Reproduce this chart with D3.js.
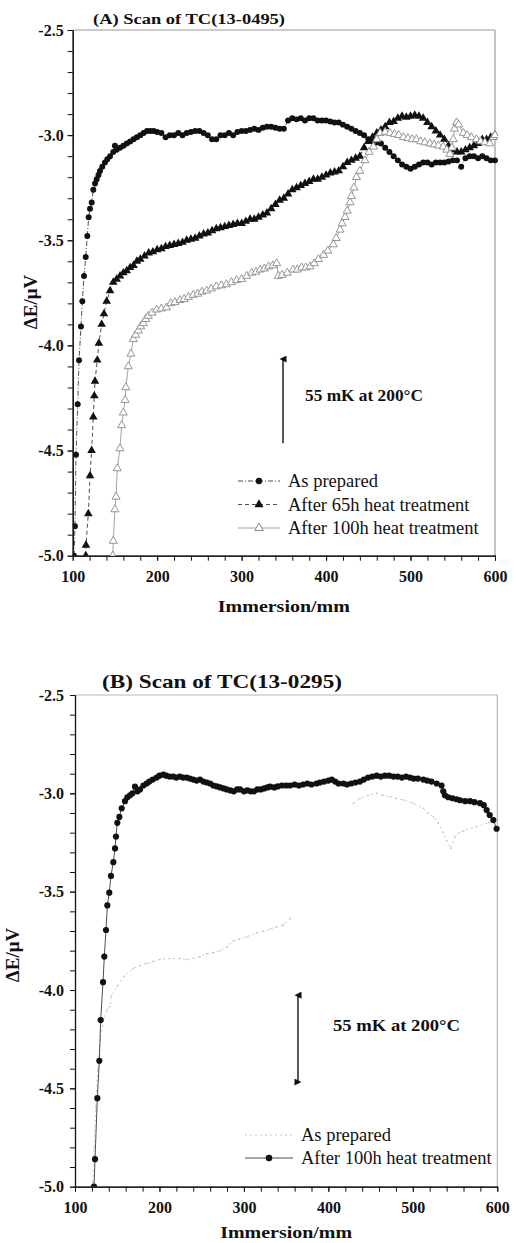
<!DOCTYPE html>
<meta charset="utf-8">
<style>
body { margin: 0; background: #fff; }
text { font-family: 'Liberation Serif', 'Times New Roman', serif; fill: #111; }
.axis text { font-weight: bold; font-size: 16px; }
.axis path, .axis line { stroke: #111; }
.title { font-weight: bold; }
.axisLabel { font-weight: bold; font-size: 17px; }
.yLabel { font-weight: bold; font-size: 19px; }
.legendLabel { font-size: 18.5px; }
.note { font-weight: bold; font-size: 16px; }
</style>
<body>
<svg id="chart" width="516" height="1243"></svg>
<script src="https://d3js.org/d3.v7.min.js"></script>
<script>
// tick values
const immersionTicks = [100, 200, 300, 400, 500, 600];
const emfTicks = [-2.5, -3.0, -3.5, -4.0, -4.5, -5.0];

// panel A : TC(13-0495)  [immersion mm, dE uV]
const asPreparedA = [[101.6,-5.0],[102.7,-4.86],[103.9,-4.52],[105.9,-4.28],[107.5,-4.07],[109.8,-3.91],[111.4,-3.79],[113.4,-3.67],[115.4,-3.58],[117.3,-3.48],[118.9,-3.39],[120.5,-3.35],[122.5,-3.32],[124.4,-3.26],[126.5,-3.23],[128.4,-3.21],[130.5,-3.19],[132.3,-3.17],[135,-3.15],[138.2,-3.13],[141,-3.115],[144.2,-3.10],[148,-3.08],[150,-3.05],[152,-3.07],[156,-3.06],[160,-3.05],[164,-3.04],[168,-3.03],[172,-3.02],[176,-3.01],[180,-3.0],[184,-2.99],[188,-2.98],[192,-2.98],[196,-2.98],[200,-2.985],[205,-2.99],[210,-3.01],[215,-3.0],[220,-3.0],[225,-2.99],[230,-3.0],[235,-2.99],[240,-2.985],[245,-2.98],[250,-2.98],[255,-2.99],[260,-3.0],[265,-3.02],[270,-3.02],[275,-3.0],[280,-3.0],[285,-2.99],[290,-3.0],[295,-2.985],[300,-2.98],[305,-2.98],[310,-2.975],[315,-2.97],[320,-2.975],[325,-2.965],[330,-2.96],[335,-2.96],[340,-2.965],[345,-2.97],[350,-2.97],[355,-2.93],[360,-2.92],[365,-2.925],[370,-2.92],[375,-2.93],[380,-2.92],[385,-2.92],[390,-2.93],[395,-2.93],[400,-2.93],[405,-2.935],[410,-2.94],[415,-2.94],[420,-2.95],[425,-2.96],[430,-2.97],[435,-2.98],[440,-2.99],[445,-3.0],[450,-3.02],[455,-3.03],[460,-3.035],[465,-3.04],[470,-3.06],[475,-3.08],[480,-3.10],[485,-3.12],[490,-3.14],[495,-3.15],[500,-3.16],[505,-3.15],[510,-3.14],[515,-3.13],[520,-3.13],[525,-3.14],[530,-3.13],[535,-3.13],[540,-3.13],[545,-3.125],[550,-3.12],[555,-3.12],[560,-3.15],[565,-3.11],[570,-3.10],[575,-3.10],[580,-3.11],[585,-3.10],[590,-3.11],[595,-3.12],[600,-3.12]];

const heat65A = [[115.5,-5.0],[115.7,-4.95],[118.5,-4.80],[120.5,-4.62],[122.4,-4.50],[124.4,-4.34],[125.6,-4.24],[126.4,-4.17],[129.1,-4.07],[131,-3.99],[134.3,-3.90],[137,-3.85],[140.2,-3.79],[144.2,-3.74],[148,-3.70],[152,-3.685],[156,-3.67],[160,-3.655],[164,-3.645],[168,-3.63],[172,-3.62],[176,-3.60],[180,-3.59],[185,-3.575],[190,-3.56],[195,-3.555],[200,-3.545],[205,-3.54],[210,-3.53],[215,-3.525],[220,-3.52],[225,-3.515],[230,-3.51],[235,-3.50],[240,-3.495],[245,-3.49],[250,-3.48],[255,-3.47],[260,-3.465],[265,-3.455],[270,-3.445],[275,-3.44],[280,-3.435],[285,-3.43],[290,-3.425],[295,-3.42],[300,-3.42],[305,-3.41],[310,-3.40],[315,-3.40],[320,-3.39],[325,-3.38],[330,-3.37],[335,-3.35],[340,-3.33],[345,-3.31],[350,-3.30],[355,-3.28],[360,-3.26],[365,-3.25],[370,-3.24],[375,-3.23],[380,-3.22],[385,-3.21],[390,-3.21],[395,-3.20],[400,-3.19],[405,-3.18],[410,-3.175],[415,-3.17],[420,-3.15],[425,-3.13],[430,-3.12],[435,-3.11],[440,-3.10],[445,-3.06],[450,-3.03],[455,-3.01],[460,-2.99],[465,-2.975],[470,-2.96],[475,-2.94],[480,-2.935],[485,-2.92],[490,-2.91],[495,-2.915],[500,-2.91],[505,-2.905],[510,-2.91],[515,-2.92],[520,-2.94],[525,-2.96],[530,-2.98],[535,-3.0],[540,-3.02],[545,-3.05],[550,-3.07],[555,-3.08],[560,-3.08],[565,-3.07],[570,-3.06],[575,-3.05],[580,-3.04],[585,-3.02],[590,-3.02],[595,-3.01],[600,-3.0]];

const heat100A = [[147.5,-5.0],[148,-4.93],[150,-4.78],[151.3,-4.72],[152.8,-4.585],[156,-4.49],[158,-4.38],[159.9,-4.32],[162,-4.26],[163,-4.20],[165.8,-4.10],[169,-4.04],[171.8,-3.97],[174.5,-3.95],[177.7,-3.93],[180.5,-3.91],[183.6,-3.895],[186.5,-3.875],[189.5,-3.86],[194,-3.845],[199.4,-3.83],[205,-3.825],[211,-3.82],[216,-3.80],[221,-3.795],[227,-3.785],[232,-3.78],[237,-3.77],[242.8,-3.76],[248,-3.755],[253,-3.745],[258.5,-3.74],[264,-3.73],[270,-3.72],[276,-3.715],[282,-3.71],[288,-3.70],[294,-3.69],[300,-3.685],[306,-3.67],[312,-3.655],[317,-3.65],[322,-3.64],[327,-3.635],[332,-3.625],[337,-3.62],[341.5,-3.61],[343.5,-3.67],[348,-3.665],[354,-3.655],[361,-3.64],[366,-3.64],[371,-3.63],[376,-3.63],[381,-3.625],[386,-3.61],[391,-3.59],[397,-3.57],[402,-3.55],[408.5,-3.52],[412,-3.49],[416.6,-3.45],[419,-3.42],[422.5,-3.39],[425,-3.36],[428.4,-3.32],[430,-3.29],[433,-3.25],[436,-3.20],[440,-3.17],[446,-3.12],[451,-3.08],[456,-3.055],[460,-3.02],[464,-2.99],[470,-2.985],[475.7,-2.99],[481,-2.995],[486,-3.0],[491.5,-3.01],[497,-3.015],[502,-3.02],[507,-3.02],[512,-3.03],[517,-3.035],[523,-3.04],[528,-3.045],[533,-3.05],[538.8,-3.055],[543,-3.07],[546.7,-3.09],[549,-3.06],[550.6,-3.02],[552,-2.97],[554.6,-2.94],[557,-2.95],[562.5,-2.99],[567,-3.0],[572,-3.01],[578,-3.02],[583,-3.03],[588,-3.035],[593.7,-3.04],[598,-3.01],[600,-3.0]];

// panel B : TC(13-0295)
const asPreparedB = [[120.5,-5.0],[121,-4.98],[122.5,-4.8],[124.5,-4.6],[127,-4.4],[130,-4.25],[134,-4.15],[138,-4.1],[141.4,-4.085],[143,-4.03],[150,-3.98],[158,-3.93],[169,-3.89],[177,-3.875],[184.9,-3.865],[192,-3.855],[200.6,-3.845],[212,-3.84],[224.3,-3.84],[232,-3.845],[240,-3.84],[248,-3.83],[255.9,-3.815],[264,-3.81],[271.7,-3.80],[280,-3.78],[287.5,-3.75],[295,-3.74],[303.3,-3.73],[315,-3.71],[323,-3.70],[330.9,-3.69],[338,-3.68],[346.6,-3.67],[354.6,-3.636],null,[429.6,-3.05],[437.4,-3.026],[447,-3.01],[457.2,-3.0],[465,-3.01],[473,-3.017],[480,-3.025],[488.7,-3.034],[500,-3.05],[512.4,-3.076],[518,-3.10],[524.2,-3.12],[530,-3.15],[536,-3.2],[540,-3.24],[545,-3.28],[550,-3.22],[555,-3.2],[560,-3.19],[575,-3.17],[590,-3.15],[600,-3.14]];

const heat100B = [[122.5,-5.0],[123.7,-4.86],[126.4,-4.55],[128.8,-4.36],[130.4,-4.153],[133.2,-3.96],[134.7,-3.83],[136.7,-3.695],[138.3,-3.57],[140.6,-3.505],[142.6,-3.42],[145.4,-3.35],[147.4,-3.28],[148.5,-3.22],[150.1,-3.15],[152.5,-3.12],[155.3,-3.076],[159.2,-3.04],[162,-3.02],[165.1,-3.01],[168,-3.0],[171,-2.966],[174,-2.99],[177,-2.98],[181,-2.96],[184.9,-2.95],[188,-2.94],[192,-2.93],[196.7,-2.92],[200,-2.91],[204.6,-2.905],[208,-2.91],[212,-2.915],[216.4,-2.915],[220,-2.92],[224,-2.915],[228,-2.92],[232.2,-2.92],[236,-2.925],[240,-2.93],[244,-2.935],[248,-2.93],[252,-2.94],[256,-2.945],[260,-2.95],[263.8,-2.96],[268,-2.965],[272,-2.97],[276,-2.975],[279.6,-2.98],[284,-2.985],[288,-2.99],[292,-2.98],[295.4,-2.98],[300,-2.99],[304,-2.985],[308,-2.99],[312,-2.99],[316,-2.98],[320,-2.98],[324,-2.975],[328,-2.97],[331,-2.966],[336,-2.97],[340,-2.965],[345,-2.96],[350,-2.96],[354.6,-2.96],[360,-2.955],[365,-2.96],[370,-2.955],[375,-2.95],[380,-2.955],[386,-2.95],[390,-2.945],[395,-2.94],[400,-2.935],[404,-2.93],[408,-2.94],[412,-2.95],[417.7,-2.95],[422,-2.955],[427,-2.95],[432,-2.945],[437.4,-2.94],[442,-2.93],[447,-2.92],[452,-2.915],[457.2,-2.91],[462,-2.915],[467,-2.91],[472,-2.91],[477,-2.915],[482,-2.915],[487,-2.92],[492,-2.915],[496.6,-2.92],[501,-2.925],[506,-2.925],[512.4,-2.93],[517,-2.935],[522,-2.94],[528.2,-2.95],[534,-2.96],[536,-2.99],[538,-3.01],[542,-3.02],[547,-3.025],[551.9,-3.03],[556,-3.035],[562,-3.04],[567.7,-3.04],[573,-3.045],[579.5,-3.05],[584,-3.06],[587.4,-3.085],[591,-3.11],[595.3,-3.136],[599.2,-3.18]];

// 55 mK at 200 C scale bar: [immersion, dE from, dE to]
const scaleBarA = [349, -4.065, -4.465];
const scaleBarB = [364, -4.026, -4.468];

const svg = d3.select("#chart");

const defs = svg.append("defs");
defs.append("marker").attr("id", "head")
    .attr("viewBox", "0 0 10 10").attr("refX", 5).attr("refY", 5)
    .attr("markerWidth", 5).attr("markerHeight", 7).attr("orient", "auto-start-reverse")
    .append("path").attr("d", "M0,10 L5,0 L10,10 Z").attr("fill", "#111");

const styles = {
    dot:    { stroke: "#222", dash: "5,2,1,2", width: 0.8, symbol: d3.symbolCircle, size: 28, fill: "#111", mstroke: "none" },
    tri:    { stroke: "#222", dash: "4,3", width: 0.8, symbol: d3.symbolTriangle, size: 32, fill: "#111", mstroke: "none" },
    open:   { stroke: "#8c8c8c", dash: null, width: 0.8, symbol: d3.symbolTriangle, size: 28, fill: "#fff", mstroke: "#8a8a8a" },
    faint:  { stroke: "#c8c8c8", dash: "2,3", width: 1, symbol: d3.symbolCircle, size: 2, fill: "#bdbdbd", mstroke: "none" },
    dotB:   { stroke: "#222", dash: null, width: 0.8, symbol: d3.symbolCircle, size: 30, fill: "#111", mstroke: "none" }
};

function drawPanel(p) {
    const x = d3.scaleLinear().domain([100, 600]).range([p.left, p.right]);
    const y = d3.scaleLinear().domain([-2.5, -5.0]).range([p.top, p.bottom]);
    const g = svg.append("g");

    const clipId = "clip" + p.id;
    defs.append("clipPath").attr("id", clipId)
        .append("rect").attr("x", p.left).attr("y", p.top - 4)
        .attr("width", p.right - p.left + 3).attr("height", p.bottom - p.top + 4);

    // frame: top and right drawn faint, as in the scan
    g.append("line").attr("x1", p.left).attr("x2", p.right).attr("y1", p.top).attr("y2", p.top)
        .attr("stroke", p.frame).attr("stroke-width", 1.2);
    g.append("line").attr("x1", p.right).attr("x2", p.right).attr("y1", p.top).attr("y2", p.bottom)
        .attr("stroke", p.frame).attr("stroke-width", 1.2);

    // minor ticks
    g.append("g").attr("class", "axis").attr("transform", `translate(${p.left},0)`)
        .call(d3.axisLeft(y).tickValues(d3.range(-2.5, -5.01, -0.1)).tickFormat("").tickSize(5).tickSizeOuter(0));
    g.append("g").attr("class", "axis").attr("transform", `translate(0,${p.bottom})`)
        .call(d3.axisBottom(x).tickValues(d3.range(100, 601, 20)).tickFormat("").tickSize(5).tickSizeOuter(0));

    // major ticks + labels
    g.append("g").attr("class", "axis").attr("transform", `translate(${p.left},0)`)
        .call(d3.axisLeft(y).tickValues(emfTicks).tickFormat(d => d.toFixed(1)).tickSize(5).tickSizeOuter(0).tickPadding(p.yPad))
        .call(a => a.select(".domain").attr("stroke-width", 1.3));
    g.append("g").attr("class", "axis").attr("transform", `translate(0,${p.bottom})`)
        .call(d3.axisBottom(x).tickValues(immersionTicks).tickFormat(d3.format("d")).tickSize(5).tickSizeOuter(0).tickPadding(p.xPad))
        .call(a => a.select(".domain").attr("stroke-width", 1.3));

    // titles
    g.append("text").attr("class", "title").attr("x", p.titleX).attr("y", p.titleY)
        .attr("font-size", p.titleSize).attr("textLength", p.titleLen).attr("lengthAdjust", "spacingAndGlyphs")
        .text(p.title);
    g.append("text").attr("class", "axisLabel").attr("x", (p.left + p.right) / 2).attr("y", p.xLabelY)
        .attr("text-anchor", "middle").attr("textLength", 132).attr("lengthAdjust", "spacingAndGlyphs")
        .text("Immersion/mm");
    g.append("text").attr("class", "yLabel")
        .attr("transform", `translate(${p.yLabelX},${p.yLabelY}) rotate(-90)`)
        .attr("text-anchor", "middle").text("ΔE/μV");

    // series
    const plot = g.append("g").attr("clip-path", `url(#${clipId})`);
    const line = d3.line().defined(d => d != null).x(d => x(d[0])).y(d => y(d[1]));
    p.series.forEach(s => {
        const st = styles[s.style];
        plot.append("path").attr("d", line(s.data)).attr("fill", "none")
            .attr("stroke", st.stroke).attr("stroke-width", st.width)
            .attr("stroke-dasharray", st.dash);
        plot.append("g").selectAll("path")
            .data(s.data.filter(d => d != null))
            .join("path")
            .attr("transform", d => `translate(${x(d[0])},${y(d[1])})`)
            .attr("d", d3.symbol(st.symbol, st.size))
            .attr("fill", st.fill).attr("stroke", st.mstroke).attr("stroke-width", 0.9);
    });

    // legend
    const lg = g.append("g");
    p.series.forEach((s, i) => {
        const st = styles[s.style];
        const ly = p.legendY + i * p.legendStep;
        lg.append("line").attr("x1", p.legendX).attr("x2", p.legendX + p.legendW).attr("y1", ly).attr("y2", ly)
            .attr("stroke", st.stroke).attr("stroke-width", st.width).attr("stroke-dasharray", st.dash);
        lg.append("path").attr("transform", `translate(${p.legendX + p.legendW / 2},${ly})`)
            .attr("d", d3.symbol(st.symbol, s.style === "faint" ? 0 : st.size + 4))
            .attr("fill", st.fill).attr("stroke", st.mstroke);
        lg.append("text").attr("class", "legendLabel")
            .attr("x", p.legendX + p.legendW + 8).attr("y", ly).attr("dy", "0.35em")
            .text(s.label);
    });

    // scale bar
    const bar = p.bar;
    g.append("line").attr("x1", x(bar[0])).attr("x2", x(bar[0]))
        .attr("y1", y(bar[1])).attr("y2", y(bar[2]))
        .attr("stroke", "#111").attr("stroke-width", 1.4)
        .attr("marker-start", "url(#head)")
        .attr("marker-end", p.doubleHead ? "url(#head)" : null);
    g.append("text").attr("class", "note")
        .attr("x", x(bar[0]) + p.noteDx).attr("y", (y(bar[1]) + y(bar[2])) / 2 + p.noteDy)
        .attr("dy", "0.35em").attr("textLength", p.noteLen).attr("lengthAdjust", "spacingAndGlyphs")
        .text("55 mK at 200°C");
}

drawPanel({
    id: "A", left: 72.7, right: 495, top: 30, bottom: 555.7, frame: "#9a9a9a", xPad: 10, yPad: 4,
    title: "(A) Scan of TC(13-0495)", titleX: 93, titleY: 24, titleSize: 15, titleLen: 192,
    xLabelY: 612, yLabelX: 37, yLabelY: 302,
    legendX: 238, legendW: 42, legendY: 481, legendStep: 23.5,
    bar: scaleBarA, doubleHead: false, noteDx: 22, noteDy: -6, noteLen: 118,
    series: [
        { data: asPreparedA, style: "dot", label: "As prepared" },
        { data: heat65A, style: "tri", label: "After 65h heat treatment" },
        { data: heat100A, style: "open", label: "After 100h heat treatment" }
    ]
});

drawPanel({
    id: "B", left: 75, right: 497.3, top: 695, bottom: 1186.7, frame: "#b8b8b8", xPad: 10, yPad: 6,
    title: "(B) Scan of TC(13-0295)", titleX: 102, titleY: 688, titleSize: 19, titleLen: 240,
    xLabelY: 1238, yLabelX: 19, yLabelY: 955,
    legendX: 245, legendW: 48, legendY: 1135, legendStep: 23,
    bar: scaleBarB, doubleHead: true, noteDx: 35, noteDy: -13, noteLen: 127,
    series: [
        { data: asPreparedB, style: "faint", label: "As prepared" },
        { data: heat100B, style: "dotB", label: "After 100h heat treatment" }
    ]
});
</script>
</body>
